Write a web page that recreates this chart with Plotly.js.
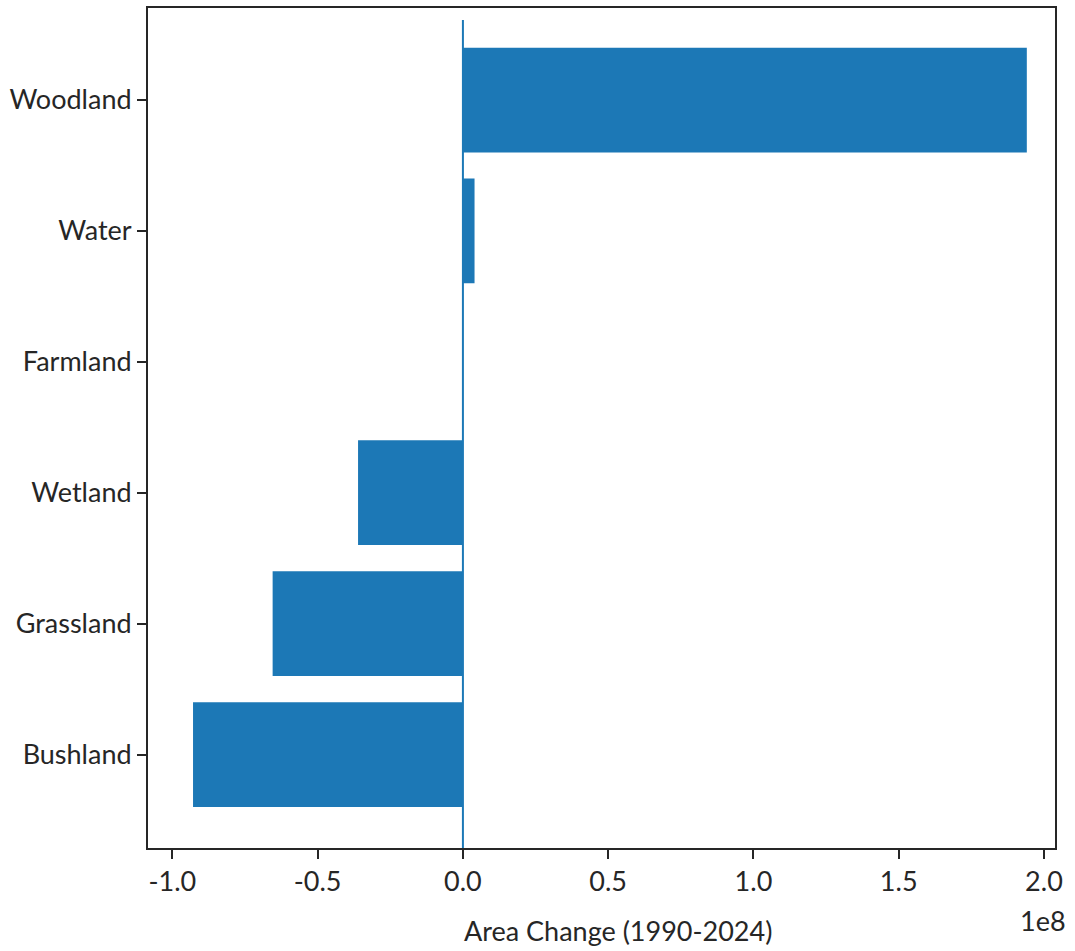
<!DOCTYPE html>
<html>
<head>
<meta charset="utf-8">
<script src="https://cdn.plot.ly/plotly-3.0.1.min.js"></script>
<style>html,body{margin:0;padding:0;background:#fff;}#chart{width:1075px;height:951px;}</style>
</head>
<body>
<div id="chart"></div>
<script>
const categories = ["Bushland", "Grassland", "Wetland", "Farmland", "Water", "Woodland"];
const areaChange = [-0.929e8, -0.655e8, -0.361e8, 0, 0.040e8, 1.941e8];
const xTickVals = [-1.0e8, -0.5e8, 0, 0.5e8, 1.0e8, 1.5e8, 2.0e8];
const xTickText = ["-1.0", "-0.5", "0.0", "0.5", "1.0", "1.5", "2.0"];
const xAxisTitle = "Area Change (1990-2024)";
const exponentLabel = "1e8";

const FONT = "Lato, 'DejaVu Sans', sans-serif";
const TXT = "#262626";

const trace = {
  type: "bar",
  orientation: "h",
  y: categories,
  x: areaChange,
  width: 0.8,
  marker: {color: "#1c78b6", line: {width: 0}},
  hoverinfo: "x+y"
};

const layout = {
  width: 1075, height: 951,
  margin: {l: 148, r: 20, t: 8, b: 103},
  paper_bgcolor: "#ffffff", plot_bgcolor: "#ffffff",
  showlegend: false,
  font: {family: FONT, size: 27, color: TXT},
  xaxis: {
    range: [-1.084e8, 2.038e8],
    tickvals: xTickVals, ticktext: xTickText,
    ticks: "outside", ticklen: 9, tickwidth: 2, tickcolor: TXT,
    showline: true, linecolor: TXT, linewidth: 2, mirror: true,
    showgrid: false, zeroline: false,
    tickfont: {family: FONT, size: 27, color: TXT}
  },
  yaxis: {
    type: "category",
    categoryorder: "array", categoryarray: categories,
    range: [-0.714, 5.703],
    ticks: "outside", ticklen: 9, tickwidth: 2, tickcolor: TXT,
    showline: true, linecolor: TXT, linewidth: 2, mirror: true,
    showgrid: false, zeroline: false,
    tickfont: {family: FONT, size: 27, color: TXT}
  },
  shapes: [{
    type: "line", xref: "x", yref: "paper",
    x0: 0, x1: 0, y0: 0, y1: 0.9857,
    line: {color: "#1c78b6", width: 2}
  }],
  annotations: [
    {text: xAxisTitle, xref: "paper", yref: "paper", x: 0.518, y: 0, yshift: -82,
     xanchor: "center", yanchor: "middle", showarrow: false,
     font: {family: FONT, size: 27, color: TXT}},
    {text: exponentLabel, xref: "paper", yref: "paper", x: 1, y: 0, yshift: -72, xshift: -12,
     xanchor: "center", yanchor: "middle", showarrow: false,
     font: {family: FONT, size: 27, color: TXT}}
  ]
};

Plotly.newPlot("chart", [trace], layout, {displayModeBar: false, staticPlot: false});
</script>
</body>
</html>
